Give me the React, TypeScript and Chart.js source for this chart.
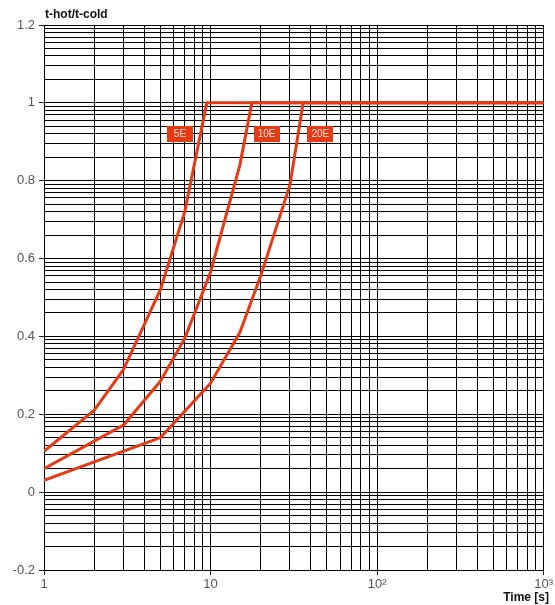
import React, { useEffect, useRef } from "react";
import { Chart, registerables } from "chart.js";

Chart.register(...registerables);

// ---- data ----
const curveNames = ["5E", "10E", "20E"];
const time5E = [1, 2, 3, 5, 7, 9.5, 1000];
const ratio5E = [0.105, 0.21, 0.315, 0.52, 0.72, 1.0, 1.0];
const time10E = [1, 3, 5, 7, 10, 15, 17.7, 1000];
const ratio10E = [0.06, 0.172, 0.285, 0.395, 0.565, 0.84, 1.0, 1.0];
const time20E = [1, 5, 10, 15, 20, 30, 36, 1000];
const ratio20E = [0.03, 0.14, 0.28, 0.41, 0.555, 0.79, 1.0, 1.0];

// label tags (data coordinates of their centers)
const labelTimes = [6.55, 21.7, 45.6];
const labelRatios = [0.921, 0.921, 0.921];

// axis ticks
const yMajorTicks = [-0.2, 0, 0.2, 0.4, 0.6, 0.8, 1.0, 1.2];
const yTickLabels = ["-0.2", "0", "0.2", "0.4", "0.6", "0.8", "1", "1.2"];
const xDecades = [1, 10, 100, 1000];
const xTickLabels = ["1", "10", "10²", "10³"];
const minorSteps = [2, 3, 4, 5, 6, 7, 8, 9];

const yTitle = "t-hot/t-cold";
const xTitle = "Time [s]";

const RED = "#e63a14";
const FONT = "'Liberation Sans', Arial, Helvetica, sans-serif";

function buildYTicks() {
  const ticks: { value: number }[] = [];
  for (let i = 0; i < yMajorTicks.length; i++) {
    const base = yMajorTicks[i];
    ticks.push({ value: base });
    if (i < yMajorTicks.length - 1) {
      const step = yMajorTicks[i + 1] - base;
      for (const k of minorSteps) ticks.push({ value: base + step * Math.log10(k) });
    }
  }
  return ticks;
}

function buildXTicks() {
  const ticks: { value: number }[] = [];
  for (let i = 0; i < xDecades.length; i++) {
    const d = xDecades[i];
    ticks.push({ value: d });
    if (i < xDecades.length - 1) {
      for (const k of minorSteps) ticks.push({ value: d * k });
    }
  }
  return ticks;
}

function yMajorIndex(v: number) {
  return yMajorTicks.findIndex((m) => Math.abs(m - v) < 1e-9);
}
function xMajorIndex(v: number) {
  return xDecades.findIndex((m) => Math.abs(m - v) < 1e-9 * m);
}

const annotationPlugin = {
  id: "annotations",
  afterDatasetsDraw(chart: any) {
    const { ctx, scales } = chart;
    const xs = scales.x;
    const ys = scales.y;
    ctx.save();
    for (let i = 0; i < curveNames.length; i++) {
      const cx = xs.getPixelForValue(labelTimes[i]);
      const cy = ys.getPixelForValue(labelRatios[i]);
      const w = 26;
      const h = 16;
      ctx.fillStyle = RED;
      ctx.fillRect(Math.round(cx - w / 2), Math.round(cy - h / 2), w, h);
      ctx.fillStyle = "rgba(255,255,255,0.85)";
      ctx.font = `10px ${FONT}`;
      ctx.textAlign = "center";
      ctx.textBaseline = "middle";
      ctx.fillText(curveNames[i], cx, cy + 0.5);
    }
    ctx.restore();
  },
  afterDraw(chart: any) {
    const { ctx } = chart;
    ctx.save();
    ctx.fillStyle = "#111";
    ctx.font = `bold 12px ${FONT}`;
    ctx.textBaseline = "alphabetic";
    ctx.textAlign = "left";
    ctx.fillText(yTitle, 45, 17.5);
    ctx.textAlign = "right";
    ctx.fillText(xTitle, 549, 601);
    ctx.restore();
  },
};

export default function App() {
  const ref = useRef<HTMLCanvasElement | null>(null);

  useEffect(() => {
    if (!ref.current) return;
    Chart.defaults.font.family = FONT;
    const mk = (xs: number[], ys: number[]) => xs.map((x, i) => ({ x, y: ys[i] }));
    const chart = new Chart(ref.current, {
      type: "line",
      data: {
        datasets: [
          { label: curveNames[0], data: mk(time5E, ratio5E) },
          { label: curveNames[1], data: mk(time10E, ratio10E) },
          { label: curveNames[2], data: mk(time20E, ratio20E) },
        ].map((d) => ({
          ...d,
          borderColor: RED,
          backgroundColor: RED,
          borderWidth: 3,
          pointRadius: 0,
          tension: 0,
          fill: false,
          borderJoinStyle: "round" as const,
        })),
      },
      options: {
        responsive: false,
        animation: false,
        events: [],
        layout: { padding: { top: 25, right: 11, left: 0, bottom: 0 } },
        plugins: {
          legend: { display: false },
          tooltip: { enabled: false },
          title: { display: false },
        },
        scales: {
          x: {
            type: "logarithmic",
            min: 1,
            max: 1000,
            afterBuildTicks: (scale: any) => {
              scale.ticks = buildXTicks();
            },
            afterFit: (scale: any) => {
              scale.height = 35;
            },
            border: { display: true, color: "#000", width: 1 },
            grid: {
              color: "#000",
              lineWidth: 1,
              drawTicks: true,
              tickLength: 5,
              tickColor: (ctx: any) =>
                ctx.tick && xMajorIndex(ctx.tick.value) >= 0 ? "#222" : "rgba(0,0,0,0)",
            },
            ticks: {
              autoSkip: false,
              maxRotation: 0,
              padding: 2,
              color: "#555",
              font: { size: 13, family: FONT },
              callback: (value: any) => {
                const i = xMajorIndex(Number(value));
                return i >= 0 ? xTickLabels[i] : "";
              },
            },
          },
          y: {
            type: "linear",
            min: -0.2,
            max: 1.2,
            afterBuildTicks: (scale: any) => {
              scale.ticks = buildYTicks();
            },
            afterFit: (scale: any) => {
              scale.width = 44;
            },
            border: { display: true, color: "#000", width: 1 },
            grid: {
              color: "#000",
              lineWidth: 1,
              drawTicks: true,
              tickLength: 5,
              tickColor: (ctx: any) =>
                ctx.tick && yMajorIndex(ctx.tick.value) >= 0 ? "#222" : "rgba(0,0,0,0)",
            },
            ticks: {
              autoSkip: false,
              padding: 4,
              color: "#555",
              font: { size: 13, family: FONT },
              callback: (value: any) => {
                const i = yMajorIndex(Number(value));
                return i >= 0 ? yTickLabels[i] : "";
              },
            },
          },
        },
      },
      plugins: [annotationPlugin],
    });
    return () => chart.destroy();
  }, []);

  return (
    <div style={{ position: "absolute", left: 0, top: 0, width: 555, height: 605, background: "#fff" }}>
      <canvas ref={ref} width={555} height={605} style={{ display: "block" }} />
    </div>
  );
}
